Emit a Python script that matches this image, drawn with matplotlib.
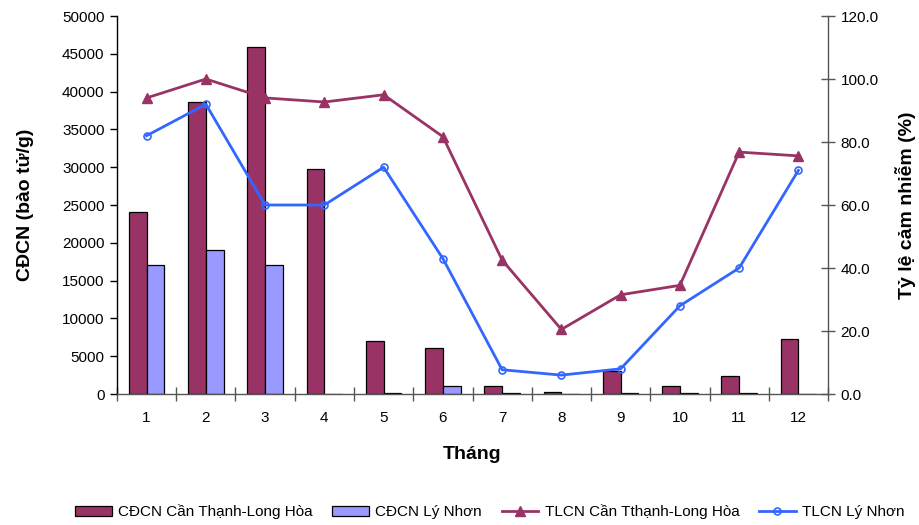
import matplotlib
matplotlib.use("Agg")
import matplotlib.pyplot as plt
from matplotlib.ticker import FixedLocator, FormatStrFormatter, NullFormatter
import numpy as np

plt.rcParams['font.family'] = ['Liberation Sans', 'DejaVu Sans']

months = ["1", "2", "3", "4", "5", "6", "7", "8", "9", "10", "11", "12"]
cdcn_can_thanh = [24100, 38600, 45900, 29700, 7000, 6100, 1100, 300, 3000, 1100, 2400, 7300]
cdcn_ly_nhon = [17100, 19100, 17000, 0, 100, 1100, 100, 0, 100, 100, 100, 0]
tlcn_can_thanh = [94.0, 100.0, 94.0, 92.7, 95.0, 81.7, 42.5, 20.5, 31.5, 34.5, 76.8, 75.6]
tlcn_ly_nhon = [82.0, 92.0, 60.0, 60.0, 72.0, 43.0, 7.7, 6.0, 8.0, 28.0, 40.0, 71.0]

labels = ["CĐCN Cần Thạnh-Long Hòa", "CĐCN Lý Nhơn",
          "TLCN Cần Tthạnh-Long Hòa", "TLCN Lý Nhơn"]

crimson = "#993366"
lavender = "#9999FF"
blue = "#3366FF"

fig = plt.figure(figsize=(9.19, 5.25), dpi=100)
ax = fig.add_axes([0.1273, 0.2495, 0.7737, 0.72])
ax2 = ax.twinx()

x = np.arange(1, len(months) + 1)
w = 0.3
b1 = ax.bar(x - w / 2, cdcn_can_thanh, width=w, color=crimson, edgecolor="black",
            linewidth=0.9, label=labels[0], zorder=2)
b2 = ax.bar(x + w / 2, cdcn_ly_nhon, width=w, color=lavender, edgecolor="black",
            linewidth=0.9, label=labels[1], zorder=2)

l1, = ax2.plot(x, tlcn_can_thanh, color=crimson, lw=2, marker="^", ms=7,
               markerfacecolor=crimson, markeredgecolor=crimson, label=labels[2])
l2, = ax2.plot(x, tlcn_ly_nhon, color=blue, lw=2, marker="o", ms=5,
               markerfacecolor="none", markeredgecolor=blue, markeredgewidth=1.2,
               label=labels[3])

ax.set_xlim(0.5, 12.5)
ax.set_ylim(0, 50000)
ax2.set_ylim(0, 120)
ax.set_yticks(np.arange(0, 50001, 5000))
ax2.set_yticks(np.arange(0, 121, 20))
ax2.yaxis.set_major_formatter(FormatStrFormatter("%.1f"))

# category labels at centres, tick marks at category boundaries
ax.xaxis.set_major_locator(FixedLocator(np.arange(0.5, 12.6, 1)))
ax.xaxis.set_major_formatter(NullFormatter())
ax.set_xticks(x, minor=True)
ax.set_xticklabels(months, minor=True)
ax.tick_params(axis="x", which="major", direction="inout", length=10, width=1, color="#555555")
ax.tick_params(axis="x", which="minor", length=0, labelsize=11, pad=12)
ax.tick_params(axis="y", direction="out", length=5, width=1, labelsize=11, pad=4)
ax2.tick_params(axis="y", direction="inout", length=10, width=1, labelsize=11,
                color="#555555", pad=4)

for a in (ax, ax2):
    a.spines["top"].set_visible(False)
ax.spines["right"].set_visible(False)
ax2.spines["left"].set_visible(False)
ax2.spines["bottom"].set_visible(False)
ax.spines["left"].set_color("black")
ax.spines["bottom"].set_color("#555555")
ax2.spines["right"].set_color("#555555")
for s in ("left", "bottom"):
    ax.spines[s].set_linewidth(1)
ax2.spines["right"].set_linewidth(1)

ax.set_ylabel("CĐCN (bào tử/g)", fontsize=14, fontweight="bold", labelpad=20)
ax2.set_ylabel("Tỷ lệ cảm nhiễm (%)", fontsize=14, fontweight="bold", labelpad=12)
ax.set_xlabel("Tháng", fontsize=14, fontweight="bold", labelpad=15)

fig.legend([b1, b2, l1, l2], labels, loc="center", bbox_to_anchor=(0.533, 0.025),
           ncol=4, frameon=False, fontsize=11, handlelength=2.4,
           handletextpad=0.4, columnspacing=1.3)

fig.savefig("out.png", dpi=100)
